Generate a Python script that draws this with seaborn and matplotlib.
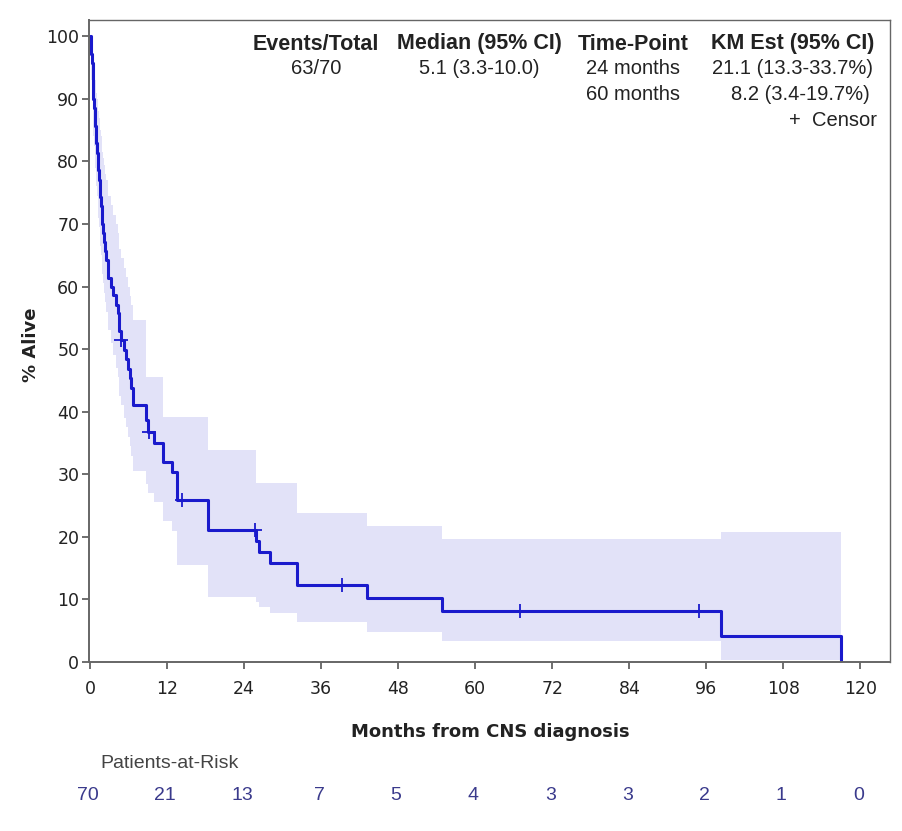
import numpy as np
import pandas as pd
import matplotlib
matplotlib.use('Agg')
import matplotlib.pyplot as plt
import seaborn as sns

################################################################################
# Kaplan-Meier step data (months, % alive)

km_time = [0, 0.1, 0.25, 0.4, 0.55, 0.7, 0.85, 1.0, 1.15, 1.3, 1.45, 1.6,
           1.75, 1.9, 2.05, 2.2, 2.35, 2.5, 2.8, 3.2, 3.6, 4.0, 4.3, 4.6,
           4.8, 5.3, 5.6, 5.9, 6.2, 6.4, 6.7, 8.7, 9.0, 10.0, 11.4, 12.8,
           13.6, 18.4, 25.9, 26.3, 28.0, 32.2, 43.1, 54.8, 98.3, 116.9]
km_surv = [100, 97.1, 95.7, 92.9, 90.0, 88.6, 85.7, 82.9, 81.4, 78.6, 77.1,
           74.3, 72.9, 70.0, 68.6, 67.1, 65.7, 64.3, 61.4, 60.0, 58.6, 57.1,
           55.7, 52.9, 51.4, 49.9, 48.4, 46.9, 45.4, 43.8, 41.0, 38.6, 36.7,
           35.0, 32.0, 30.4, 25.9, 21.1, 19.3, 17.6, 15.8, 12.3, 10.2, 8.2,
           4.1, 0]
ci_lower = [100, 93.0, 91.0, 88.0, 84.0, 82.5, 79.0, 76.0, 74.5, 71.0, 69.5,
            66.5, 65.0, 62.0, 60.5, 59.0, 57.5, 56.0, 53.0, 51.0, 49.0, 47.0,
            45.5, 42.5, 41.0, 39.0, 37.5, 36.0, 34.5, 33.0, 30.5, 28.5, 27.0,
            25.5, 22.5, 21.0, 15.5, 10.4, 9.6, 8.8, 7.8, 6.4, 4.8, 3.3, 0.3, 0]
ci_upper = [100, 99.5, 99.0, 97.5, 96.0, 95.0, 93.0, 91.0, 90.0, 88.0, 87.0,
            85.0, 84.0, 81.5, 80.5, 79.5, 78.0, 77.0, 74.5, 73.0, 71.5, 70.0,
            68.5, 66.0, 64.5, 63.0, 61.5, 60.0, 58.5, 57.0, 54.6, 45.5, 45.5,
            45.5, 39.1, 39.1, 39.1, 33.9, 28.6, 28.6, 28.6, 23.8, 21.8, 19.7,
            20.8, 20.8]

censor_time = [4.9, 9.2, 14.3, 25.7, 39.2, 67.0, 94.9]
censor_surv = [51.4, 36.7, 25.9, 21.1, 12.3, 8.2, 8.2]

risk_months = [0, 12, 24, 36, 48, 60, 72, 84, 96, 108, 120]
risk_counts = [70, 21, 13, 7, 5, 4, 3, 3, 2, 1, 0]

header = ['Events/Total', 'Median (95% CI)', 'Time-Point', 'KM Est (95% CI)']
row_1 = ['63/70', '5.1 (3.3-10.0)', '24 months', '21.1 (13.3-33.7%)']
row_2 = ['', '', '60 months', '8.2 (3.4-19.7%)']

################################################################################

line_color = '#1a1acc'
band_color = '#e2e2f8'
text_color = '#222222'

sns.set_style('white')
plt.rcParams['font.family'] = ['Liberation Sans', 'DejaVu Sans']

km = pd.DataFrame({'month': km_time, 'surv': km_surv,
                   'lo': ci_lower, 'hi': ci_upper})
censors = pd.DataFrame({'month': censor_time, 'surv': censor_surv})

fig = plt.figure(figsize = (9.03, 8.31), dpi = 100)
ax = fig.add_axes([89 / 903, 1 - 662 / 831, 801 / 903, 642 / 831])

# Confidence band first, then the step curve and censor marks on top.
ax.fill_between(km['month'], km['lo'], km['hi'], step = 'post',
                color = band_color, linewidth = 0)
sns.lineplot(data = km, x = 'month', y = 'surv', drawstyle = 'steps-post',
             color = line_color, linewidth = 2.2, ax = ax, estimator = None,
             sort = False)
sns.scatterplot(data = censors, x = 'month', y = 'surv', marker = '+', s = 110,
                color = line_color, linewidth = 1.3, ax = ax, zorder = 5)

ax.set_xlim(-0.15, 124.6)
ax.set_ylim(0, 102.6)
ax.set_xticks(risk_months)
ax.set_yticks(range(0, 101, 10))
ax.tick_params(axis = 'both', length = 5, width = 1.2, color = '#555555',
               labelsize = 12.5, labelcolor = text_color, direction = 'out',
               bottom = True, left = True)
ax.tick_params(axis = 'x', pad = 8)
ax.tick_params(axis = 'y', pad = 2)
for label in ax.get_xticklabels() + ax.get_yticklabels():
    label.set_family('DejaVu Sans')

for side, spine in ax.spines.items():
    spine.set_color('#666666')
    spine.set_linewidth(1.4 if side in ('left', 'bottom') else 1.0)

ax.set_xlabel('Months from CNS diagnosis', fontsize = 13, fontweight = 'bold',
              family = 'DejaVu Sans', color = text_color)
ax.set_ylabel('% Alive', fontsize = 13, fontweight = 'bold',
              family = 'DejaVu Sans', color = text_color)
ax.xaxis.set_label_coords((490 - 89) / 801, -(732 - 662) / 642)
ax.yaxis.set_label_coords((31 - 89) / 801, (662 - 345) / 642)
ax.xaxis.label.set_va('center')
ax.yaxis.label.set_va('center')

# Summary table in the upper right corner.
col_x = [316, 479, 633, 793]
for x, head, v1 in zip(col_x, header, row_1):
    fig.text(x / 903, 1 - 44 / 831, head, ha = 'center', va = 'center',
             fontsize = 15.5, fontweight = 'bold', color = text_color)
    fig.text(x / 903, 1 - 69 / 831, v1, ha = 'center', va = 'center',
             fontsize = 14.5, color = text_color)
fig.text(633 / 903, 1 - 95 / 831, row_2[2], ha = 'center', va = 'center',
         fontsize = 14.5, color = text_color)
fig.text(800 / 903, 1 - 95 / 831, row_2[3], ha = 'center', va = 'center',
         fontsize = 14.5, color = text_color)
fig.text(877 / 903, 1 - 120 / 831, '+  Censor', ha = 'right', va = 'center',
         fontsize = 14.5, color = text_color)

# Patients-at-risk table under the axis.
fig.text(170 / 903, 1 - 763 / 831, 'Patients-at-Risk', ha = 'center',
         va = 'center', fontsize = 14, color = '#444444')
for month, count in zip(risk_months, risk_counts):
    x_fig = fig.transFigure.inverted().transform(
        ax.transData.transform((month, 0)))[0]
    fig.text(x_fig - 2 / 903, 1 - 795 / 831, str(count), ha = 'center',
             va = 'center', fontsize = 14, color = '#3a3a8c')

fig.savefig('out.png', dpi = 100)
